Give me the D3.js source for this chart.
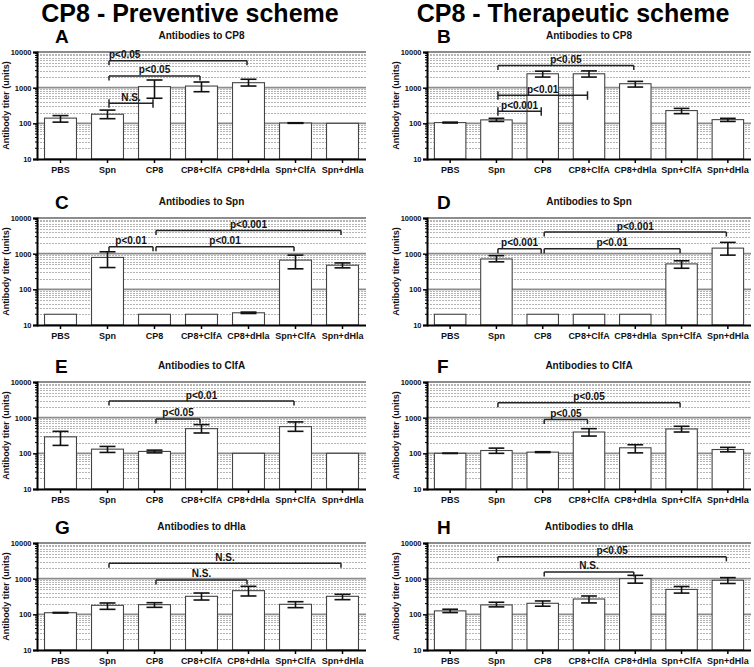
<!DOCTYPE html>
<html>
<head>
<meta charset="utf-8">
<script src="https://cdn.jsdelivr.net/npm/d3@7"></script>
<style>
  html, body { margin: 0; padding: 0; background: #fff; }
  svg { display: block; font-family: "Liberation Sans", Arial, sans-serif; }
</style>
</head>
<body>
<svg id="chart" width="754" height="667"></svg>
<script>
// ---------- DATA ----------
const categories = ["PBS", "Spn", "CP8", "CP8+ClfA", "CP8+dHla", "Spn+ClfA", "Spn+dHla"];
const columnTitles = ["CP8 - Preventive scheme", "CP8 - Therapeutic scheme"];
const panelLetters = ["A", "B", "C", "D", "E", "F", "G", "H"];
const panelTitles = ["Antibodies to CP8", "Antibodies to CP8", "Antibodies to Spn", "Antibodies to Spn",
                     "Antibodies to ClfA", "Antibodies to ClfA", "Antibodies to dHla", "Antibodies to dHla"];
const yAxisTitle = "Antibody titer (units)";
const yTickValues = [10, 100, 1000, 10000];
const yTickLabels = ["10", "100", "1000", "10000"];

// mean titers, lower and upper error bar ends
const meanA = [140, 180, 1070, 1110, 1380, 102, 100];
const lowA  = [108, 135, 505, 770, 1110, 100, 100];
const highA = [165, 235, 1640, 1440, 1720, 104, 100];

const meanB = [105, 125, 2450, 2450, 1290, 228, 127];
const lowB  = [102, 113, 1980, 1980, 1040, 187, 113];
const highB = [108, 138, 2900, 2950, 1500, 262, 138];

const meanC = [20, 785, 20, 20, 22, 660, 475];
const lowC  = [20, 408, 20, 20, 21, 376, 400];
const highC = [20, 1130, 20, 20, 23, 910, 550];

const meanD = [20, 710, 20, 20, 20, 516, 1430];
const lowD  = [20, 590, 20, 20, 20, 390, 910];
const highD = [20, 880, 20, 20, 20, 630, 2070];

const meanE = [290, 131, 113, 492, 100, 561, 100];
const lowE  = [167, 106, 103, 372, 100, 414, 100];
const highE = [414, 156, 123, 638, 100, 760, 100];

const meanF = [100, 120, 108, 396, 143, 482, 128];
const lowF  = [99, 100, 105, 305, 103, 396, 110];
const highF = [101, 140, 111, 492, 174, 573, 147];

const meanG = [111, 179, 187, 320, 461, 191, 320];
const lowG  = [109, 138, 157, 252, 327, 154, 258];
const highG = [113, 208, 212, 396, 610, 226, 364];

const meanH = [125, 184, 204, 269, 1000, 499, 903];
const lowH  = [112, 162, 169, 209, 748, 394, 733];
const highH = [139, 218, 237, 327, 1240, 604, 1070];

// significance brackets: from/to categories, level on the titer scale
const bracketsA = [
  { from: "Spn", to: "CP8+dHla", level: 5700, label: "p<0.05", ends: "down", anchor: "start" },
  { from: "Spn", to: "CP8+ClfA", level: 2130, label: "p<0.05", ends: "down" },
  { from: "Spn", to: "CP8", level: 366, label: "N.S.", ends: "both" }
];
const bracketsB = [
  { from: "Spn", to: "CP8+dHla", level: 4200, label: "p<0.05", ends: "down" },
  { from: "Spn", to: "CP8+ClfA", level: 613, label: "p<0.01", ends: "both" },
  { from: "Spn", to: "CP8", level: 218, label: "p<0.001", ends: "both" }
];
const bracketsC = [
  { from: "CP8", to: "Spn+dHla", level: 4470, label: "p<0.001", ends: "down" },
  { from: "Spn", to: "CP8", level: 1570, label: "p<0.01", ends: "down" },
  { from: "CP8", to: "Spn+ClfA", level: 1570, label: "p<0.01", ends: "down" }
];
const bracketsD = [
  { from: "CP8", to: "Spn+dHla", level: 4040, label: "p<0.001", ends: "down" },
  { from: "Spn", to: "CP8", level: 1365, label: "p<0.001", ends: "down" },
  { from: "CP8", to: "Spn+ClfA", level: 1365, label: "p<0.01", ends: "down" }
];
const bracketsE = [
  { from: "Spn", to: "Spn+ClfA", level: 2910, label: "p<0.01", ends: "down" },
  { from: "CP8", to: "CP8+ClfA", level: 923, label: "p<0.05", ends: "down" }
];
const bracketsF = [
  { from: "Spn", to: "Spn+ClfA", level: 2610, label: "p<0.05", ends: "down" },
  { from: "CP8", to: "CP8+ClfA", level: 883, label: "p<0.05", ends: "down" }
];
const bracketsG = [
  { from: "Spn", to: "Spn+dHla", level: 2690, label: "N.S.", ends: "down" },
  { from: "CP8", to: "CP8+dHla", level: 918, label: "N.S.", ends: "down" }
];
const bracketsH = [
  { from: "Spn", to: "Spn+dHla", level: 4090, label: "p<0.05", ends: "down" },
  { from: "CP8", to: "CP8+dHla", level: 1540, label: "N.S.", ends: "down" }
];

// ---------- LAYOUT ----------
const panels = [
  { mean: meanA, low: lowA, high: highA, brackets: bracketsA },
  { mean: meanB, low: lowB, high: highB, brackets: bracketsB },
  { mean: meanC, low: lowC, high: highC, brackets: bracketsC },
  { mean: meanD, low: lowD, high: highD, brackets: bracketsD },
  { mean: meanE, low: lowE, high: highE, brackets: bracketsE },
  { mean: meanF, low: lowF, high: highF, brackets: bracketsF },
  { mean: meanG, low: lowG, high: highG, brackets: bracketsG },
  { mean: meanH, low: lowH, high: highH, brackets: bracketsH }
];
const colX = [[37, 366], [427, 751]];
const rowTop = [52, 218, 382, 543];
const plotH = 107;
const titleX = [190, 573];
const letterX = [55, 437];

const svg = d3.select("#chart");
const FONT = "'Liberation Sans', Arial, sans-serif";

columnTitles.forEach((t, i) => {
  svg.append("text").attr("x", titleX[i]).attr("y", 22)
    .attr("text-anchor", "middle").attr("font-size", 25).attr("font-weight", "bold")
    .attr("fill", "#000").text(t);
});

panels.forEach((p, idx) => {
  const col = idx % 2, row = Math.floor(idx / 2);
  const [x0, x1] = colX[col];
  const top = rowTop[row], bottom = top + plotH;

  const x = d3.scaleBand().domain(categories).range([x0, x1]).paddingInner(0.32).paddingOuter(0.16);
  const y = d3.scaleLog().domain([10, 10000]).range([bottom, top]);
  const g = svg.append("g");

  // gridlines
  const minor = y.ticks().filter(v => !yTickValues.includes(v));
  g.append("g").selectAll("line").data(minor).join("line")
    .attr("x1", x0).attr("x2", x1)
    .attr("y1", d => Math.round(y(d)) + 0.5).attr("y2", d => Math.round(y(d)) + 0.5)
    .attr("stroke", "#b4b4b4").attr("stroke-width", 1).attr("stroke-dasharray", "2,1");
  g.append("g").selectAll("line").data(yTickValues.slice(1)).join("line")
    .attr("x1", x0).attr("x2", x1)
    .attr("y1", d => y(d)).attr("y2", d => y(d))
    .attr("stroke", "#8c8c8c").attr("stroke-width", 1.8);

  // bars
  g.append("g").selectAll("rect").data(categories).join("rect")
    .attr("x", d => x(d)).attr("width", x.bandwidth())
    .attr("y", (d, i) => y(p.mean[i])).attr("height", (d, i) => bottom - y(p.mean[i]))
    .attr("fill", "#fff").attr("stroke", "#444").attr("stroke-width", 1.1);

  // error bars
  const capW = x.bandwidth() * 0.5;
  const eb = g.append("g").attr("stroke", "#111").attr("stroke-width", 1.6);
  categories.forEach((c, i) => {
    if (p.high[i] === p.low[i]) return;
    const cx = x(c) + x.bandwidth() / 2;
    eb.append("line").attr("x1", cx).attr("x2", cx).attr("y1", y(p.high[i])).attr("y2", y(p.low[i]));
    [p.high[i], p.low[i]].forEach(v => {
      eb.append("line").attr("x1", cx - capW / 2).attr("x2", cx + capW / 2).attr("y1", y(v)).attr("y2", y(v));
    });
  });

  // brackets
  p.brackets.forEach(b => {
    const bx1 = x(b.from) + x.bandwidth() / 2 + 1.5;
    const bx2 = x(b.to) + x.bandwidth() / 2 - 1.5;
    const by = y(b.level);
    const bg = g.append("g").attr("stroke", "#222").attr("stroke-width", 1.5).attr("fill", "none");
    const up = b.ends === "both" ? 4 : 0;
    bg.append("line").attr("x1", bx1).attr("x2", bx2).attr("y1", by).attr("y2", by);
    [bx1, bx2].forEach(xx => bg.append("line").attr("x1", xx).attr("x2", xx).attr("y1", by - up).attr("y2", by + 4.5));
    g.append("text")
      .attr("x", b.anchor === "start" ? bx1 : (bx1 + bx2) / 2)
      .attr("y", by - 2.5)
      .attr("text-anchor", b.anchor === "start" ? "start" : "middle")
      .attr("font-size", 10).attr("font-weight", "bold").attr("fill", "#111")
      .text(b.label);
  });

  // y axis
  const yAxis = d3.axisLeft(y).tickValues(yTickValues)
    .tickFormat((d, i) => yTickLabels[i]).tickSize(4).tickPadding(1.5);
  const ya = g.append("g").attr("transform", `translate(${x0},0)`).call(yAxis);
  ya.select(".domain").attr("stroke", "#000").attr("stroke-width", 2);
  ya.selectAll(".tick line").attr("stroke", "#000").attr("stroke-width", 1.5);
  ya.selectAll("text").attr("font-size", 7.5).attr("font-weight", "bold").attr("font-family", FONT).attr("fill", "#111");
  // minor ticks
  g.append("g").selectAll("line").data(minor).join("line")
    .attr("x1", x0 - 2).attr("x2", x0).attr("y1", d => y(d)).attr("y2", d => y(d))
    .attr("stroke", "#000").attr("stroke-width", 1);

  // x axis
  const xAxis = d3.axisBottom(x).tickSize(4).tickPadding(3.5);
  const xa = g.append("g").attr("transform", `translate(0,${bottom})`).call(xAxis);
  xa.select(".domain").attr("stroke", "#000").attr("stroke-width", 2).attr("d", `M${x0},0.5H${x1}`);
  xa.selectAll(".tick line").attr("stroke", "#000").attr("stroke-width", 1.5);
  xa.selectAll("text").attr("font-size", 9).attr("font-weight", "bold").attr("font-family", FONT).attr("fill", "#111");

  // titles
  g.append("text").attr("x", letterX[col]).attr("y", top - 9)
    .attr("font-size", 19).attr("font-weight", "bold").attr("fill", "#000").text(panelLetters[idx]);
  g.append("text").attr("x", (x0 + x1) / 2).attr("y", top - 13).attr("text-anchor", "middle")
    .attr("font-size", 10).attr("font-weight", "bold").attr("fill", "#111").text(panelTitles[idx]);
  g.append("text")
    .attr("transform", `translate(${x0 - 28},${(top + bottom) / 2}) rotate(-90)`)
    .attr("text-anchor", "middle").attr("font-size", 9).attr("font-weight", "bold").attr("fill", "#111")
    .text(yAxisTitle);
});
</script>
</body>
</html>
